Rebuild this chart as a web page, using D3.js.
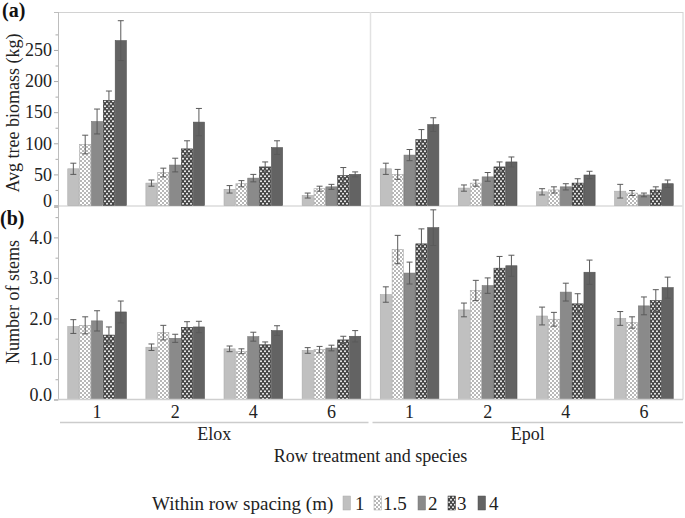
<!DOCTYPE html>
<html>
<head>
<meta charset="utf-8">
<script src="https://cdn.jsdelivr.net/npm/d3@7"></script>
<style>
  body { margin: 0; background: #fff; }
  svg text { font-family: "Liberation Serif", "Times New Roman", serif !important; }
</style>
</head>
<body>
<div id="chart"></div>
<script>
const width = 685, height = 518;
const left = 58, right = 683;

// categories
const species = ["Elox", "Epol"];
const rows = ["1", "2", "4", "6"];
const spacings = ["1", "1.5", "2", "3", "4"];

// avg tree biomass (kg): one list per row treatment, spacing order 1, 1.5, 2, 3, 4
const biomassElox = [[59, 98, 135, 169, 265], [36, 53, 65, 91, 134], [26, 35, 44, 62, 93], [16, 27, 30, 48, 50]];
const biomassEloxErr = [[9, 15, 20, 15, 32], [5, 7, 11, 13, 22], [6, 5, 6, 8, 11], [4, 4, 4, 13, 4]];
const biomassEpol = [[59, 50, 81, 106, 130], [28, 36, 46, 62, 70], [22, 25, 30, 36, 49], [23, 20, 17, 25, 35]];
const biomassEpolErr = [[9, 8, 9, 16, 11], [5, 5, 7, 8, 8], [5, 5, 5, 7, 6], [11, 4, 3, 5, 6]];

// number of stems
const stemsElox = [[1.80, 1.83, 1.94, 1.59, 2.16], [1.29, 1.65, 1.51, 1.78, 1.79], [1.25, 1.19, 1.55, 1.35, 1.70], [1.21, 1.23, 1.27, 1.47, 1.56]];
const stemsEloxErr = [[0.17, 0.21, 0.25, 0.20, 0.27], [0.08, 0.18, 0.10, 0.14, 0.14], [0.07, 0.06, 0.11, 0.07, 0.12], [0.07, 0.08, 0.07, 0.09, 0.14]];
const stemsEpol = [[2.59, 3.70, 3.12, 3.84, 4.24], [2.21, 2.69, 2.81, 3.24, 3.30], [2.06, 1.98, 2.65, 2.36, 3.14], [2.00, 1.90, 2.31, 2.44, 2.76]];
const stemsEpolErr = [[0.19, 0.35, 0.27, 0.37, 0.44], [0.17, 0.25, 0.19, 0.29, 0.26], [0.22, 0.17, 0.22, 0.25, 0.30], [0.17, 0.14, 0.22, 0.27, 0.26]];

// tick labels
const biomassTicks = [0, 50, 100, 150, 200, 250];
const stemTicks = [0, 1, 2, 3, 4];

// build flat table
const biomass = { Elox: [biomassElox, biomassEloxErr], Epol: [biomassEpol, biomassEpolErr] };
const stems = { Elox: [stemsElox, stemsEloxErr], Epol: [stemsEpol, stemsEpolErr] };
const table = [];
species.forEach(s => rows.forEach((r, i) => spacings.forEach((k, j) => {
  table.push({
    group: s + r, spacing: k,
    bio: biomass[s][0][i][j], bioErr: biomass[s][1][i][j],
    stem: stems[s][0][i][j], stemErr: stems[s][1][i][j]
  });
})));
const groups = species.flatMap(s => rows.map(r => s + r));

const svg = d3.select("#chart").append("svg")
  .attr("width", width).attr("height", height);

// patterns
const defs = svg.append("defs");
const p15 = defs.append("pattern").attr("id", "p15")
  .attr("patternUnits", "userSpaceOnUse").attr("width", 4).attr("height", 4);
p15.append("rect").attr("width", 4).attr("height", 4).attr("fill", "#fff");
p15.append("rect").attr("width", 2).attr("height", 2).attr("fill", "#b8b8b8");
p15.append("rect").attr("x", 2).attr("y", 2).attr("width", 2).attr("height", 2).attr("fill", "#b8b8b8");

const p3 = defs.append("pattern").attr("id", "p3")
  .attr("patternUnits", "userSpaceOnUse").attr("width", 4).attr("height", 5);
p3.append("rect").attr("width", 4).attr("height", 5).attr("fill", "#454545");
p3.append("circle").attr("cx", 1).attr("cy", 1.25).attr("r", 0.95).attr("fill", "#fff");
p3.append("circle").attr("cx", 3).attr("cy", 3.75).attr("r", 0.95).attr("fill", "#fff");

const fills = d3.scaleOrdinal().domain(spacings)
  .range(["#c0c0c0", "url(#p15)", "#8a8a8a", "url(#p3)", "#636363"]);
const strokes = d3.scaleOrdinal().domain(spacings)
  .range(["#ababab", "#a8a8a8", "#777", "#333", "#505050"]);

// scales
const x0 = d3.scaleBand().domain(groups).range([left, right])
  .paddingInner(0.25).paddingOuter(0.125);
const x1 = d3.scaleBand().domain(spacings).range([0, x0.bandwidth()]).paddingInner(0.06);
const yTop = d3.scaleLinear().domain([0, 311]).range([205.5, 12]);
const yBot = d3.scaleLinear().domain([0, 4.75]).range([399.5, 207]);

const grid = "#d2d2d2";
const mid = (x0("Elox6") + x0.bandwidth() + x0("Epol1")) / 2;

// frame lines
svg.append("line").attr("x1", left).attr("x2", right).attr("y1", 12.5).attr("y2", 12.5)
  .attr("stroke", grid);
svg.append("line").attr("x1", right).attr("x2", right).attr("y1", 12).attr("y2", 399.5)
  .attr("stroke", grid);
svg.append("line").attr("x1", mid).attr("x2", mid)
  .attr("y1", 12).attr("y2", 399.5).attr("stroke", "#e2e2e2").attr("stroke-width", 1.5);
svg.append("line").attr("x1", left - 3).attr("x2", right).attr("y1", 206).attr("y2", 206)
  .attr("stroke", "#e4e4e4").attr("stroke-width", 2);

function panel(y, valueKey, errKey) {
  const g = svg.append("g");
  g.selectAll("rect.bar").data(table).join("rect").attr("class", "bar")
    .attr("x", d => x0(d.group) + x1(d.spacing))
    .attr("width", x1.bandwidth())
    .attr("y", d => y(d[valueKey]))
    .attr("height", d => y(0) - y(d[valueKey]))
    .attr("fill", d => fills(d.spacing))
    .attr("stroke", d => strokes(d.spacing))
    .attr("stroke-width", 0.6);

  const eb = g.selectAll("g.err").data(table).join("g").attr("class", "err")
    .attr("stroke", "#5a5a5a").attr("stroke-width", 1);
  const cx = d => x0(d.group) + x1(d.spacing) + x1.bandwidth() / 2;
  eb.append("line").attr("x1", cx).attr("x2", cx)
    .attr("y1", d => y(d[valueKey] - d[errKey])).attr("y2", d => y(d[valueKey] + d[errKey]));
  eb.append("line").attr("x1", d => cx(d) - 3).attr("x2", d => cx(d) + 3)
    .attr("y1", d => y(d[valueKey] + d[errKey])).attr("y2", d => y(d[valueKey] + d[errKey]));
  eb.append("line").attr("x1", d => cx(d) - 3).attr("x2", d => cx(d) + 3)
    .attr("y1", d => y(d[valueKey] - d[errKey])).attr("y2", d => y(d[valueKey] - d[errKey]));
}
panel(yTop, "bio", "bioErr");
panel(yBot, "stem", "stemErr");

// y axes
function yAxis(y, ticks, minor, fmt) {
  const g = svg.append("g").attr("transform", `translate(${left},0)`);
  g.call(d3.axisLeft(y).tickValues(ticks).tickSize(4).tickFormat(fmt));
  g.select(".domain").attr("stroke", "#bdbdbd");
  g.selectAll(".tick line").attr("stroke", "#aaa");
  g.selectAll(".tick text").attr("font-size", 18).attr("fill", "#222").attr("x", -6);
  g.selectAll(".tick").filter(d => d === 0).select("text").attr("dy", "0.05em");
  const m = svg.append("g").attr("transform", `translate(${left},0)`);
  m.call(d3.axisLeft(y).tickValues(minor).tickSize(2.5).tickFormat(""));
  m.select(".domain").remove();
  m.selectAll(".tick line").attr("stroke", "#aaa");
  return g;
}
yAxis(yTop, biomassTicks, [25, 75, 125, 175, 225, 275], d3.format("d"));
yAxis(yBot, stemTicks, [0.5, 1.5, 2.5, 3.5, 4.5], d3.format(".1f"));
svg.append("line").attr("x1", left + 0.5).attr("x2", left + 0.5).attr("y1", 12).attr("y2", 399.5)
  .attr("stroke", "#bdbdbd");

// x axis
svg.append("line").attr("x1", left).attr("x2", right).attr("y1", 399.5).attr("y2", 399.5)
  .attr("stroke", "#cfcfcf").attr("stroke-width", 1.5);
svg.append("g").selectAll("text").data(groups).join("text")
  .attr("x", d => x0(d) + x0.bandwidth() / 2).attr("y", 418)
  .attr("text-anchor", "middle").attr("font-size", 18).attr("fill", "#222")
  .text(d => d.slice(4));

const spans = [{ name: "Elox", a: left + 2, b: mid - 2 }, { name: "Epol", a: mid + 2, b: right }];
svg.append("g").selectAll("line").data(spans).join("line")
  .attr("x1", d => d.a).attr("x2", d => d.b).attr("y1", 422.5).attr("y2", 422.5)
  .attr("stroke", "#cccccc").attr("stroke-width", 1.5);
svg.append("g").selectAll("text").data(spans).join("text")
  .attr("x", d => (d.a + d.b) / 2).attr("y", 440)
  .attr("text-anchor", "middle").attr("font-size", 18).attr("fill", "#222")
  .text(d => d.name);

svg.append("text").attr("x", (left + right) / 2).attr("y", 462)
  .attr("text-anchor", "middle").attr("font-size", 18).attr("fill", "#222")
  .text("Row treatment and species");

// y titles
svg.append("text").attr("transform", "translate(19,113) rotate(-90)")
  .attr("text-anchor", "middle").attr("font-size", 18).attr("fill", "#222")
  .text("Avg tree biomass (kg)");
svg.append("text").attr("transform", "translate(19,302) rotate(-90)")
  .attr("text-anchor", "middle").attr("font-size", 18).attr("fill", "#222")
  .text("Number of stems");

// panel labels
svg.append("text").attr("x", 2).attr("y", 17).attr("font-size", 20).attr("font-weight", "bold")
  .attr("fill", "#111").text("(a)");
svg.append("text").attr("x", 0).attr("y", 225).attr("font-size", 20).attr("font-weight", "bold")
  .attr("fill", "#111").text("(b)");

// legend
svg.append("text").attr("x", 152).attr("y", 510).attr("font-size", 19).attr("fill", "#222")
  .text("Within row spacing (m)");
const legendX = [343, 374, 418, 448, 478];
const labelX = [355, 383, 428, 457, 489];
const lg = svg.append("g").selectAll("g").data(spacings).join("g")
  .attr("transform", (d, i) => `translate(${legendX[i]},496)`);
lg.append("rect").attr("width", 7.5).attr("height", 14)
  .attr("fill", d => fills(d)).attr("stroke", d => strokes(d)).attr("stroke-width", 0.5);
lg.append("text").attr("x", (d, i) => labelX[i] - legendX[i]).attr("y", 14)
  .attr("font-size", 19).attr("fill", "#222")
  .text(d => d);
</script>
</body>
</html>
